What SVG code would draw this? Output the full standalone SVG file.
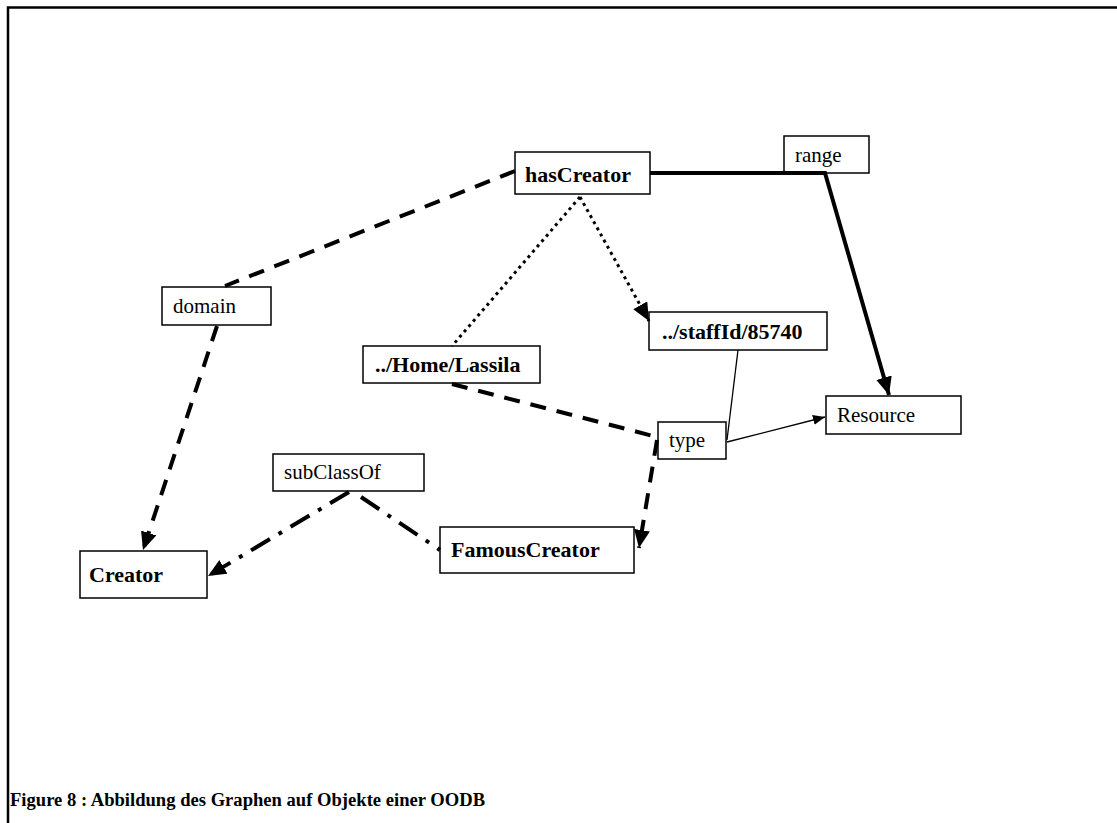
<svg xmlns="http://www.w3.org/2000/svg" width="1117" height="823" viewBox="0 0 1117 823">
<style>
.box{fill:#fff;stroke:#000;stroke-width:1.5}
.t{font-family:"Liberation Serif","Times New Roman",serif;font-size:21px;fill:#000}
.b{font-weight:bold;font-size:22px}
.ln{fill:none;stroke:#000}
.dash{stroke-width:4;stroke-dasharray:16 11}
.dot{stroke-width:3;stroke-dasharray:3 4}
.dd{stroke-width:4;stroke-dasharray:22 10 4 10}
.solid{stroke-width:4}
.thin{stroke-width:1.3}
</style>
<defs>
<marker id="ah" markerUnits="userSpaceOnUse" markerWidth="20" markerHeight="18" refX="18" refY="8" orient="auto">
<path d="M0,0 L18,8 L0,16 z" fill="#000"/>
</marker>
<marker id="ahs" markerUnits="userSpaceOnUse" markerWidth="14" markerHeight="12" refX="12" refY="5" orient="auto">
<path d="M0,0 L12,5 L0,10 z" fill="#000"/>
</marker>
</defs>
<rect width="1117" height="823" fill="#fff"/>
<path d="M8,823 V7.5 H1117" fill="none" stroke="#000" stroke-width="2.5"/>

<g id="node-hasCreator"><rect class="box" x="515" y="152" width="135" height="42"/><text class="t b" x="525" y="182">hasCreator</text></g>
<g id="node-range"><rect class="box" x="784" y="136" width="85" height="37"/><text class="t" x="795" y="162">range</text></g>
<g id="node-domain"><rect class="box" x="162" y="287" width="109" height="38"/><text class="t" x="173" y="313">domain</text></g>
<g id="node-home"><rect class="box" x="363" y="346" width="177" height="37"/><text class="t b" x="375" y="372">../Home/Lassila</text></g>
<g id="node-staff"><rect class="box" x="649" y="312" width="178" height="38"/><text class="t b" x="662" y="339">../staffId/85740</text></g>
<g id="node-type"><rect class="box" x="658" y="422" width="68" height="37"/><text class="t" x="669" y="447">type</text></g>
<g id="node-resource"><rect class="box" x="826" y="396" width="135" height="38"/><text class="t" x="837" y="422">Resource</text></g>
<g id="node-subClassOf"><rect class="box" x="273" y="454" width="151" height="37"/><text class="t" x="284" y="479">subClassOf</text></g>
<g id="node-creator"><rect class="box" x="80" y="551" width="127" height="47"/><text class="t b" x="89" y="582">Creator</text></g>
<g id="node-famous"><rect class="box" x="440" y="527" width="194" height="46"/><text class="t b" x="451" y="557">FamousCreator</text></g>

<g id="connectors">
<path class="ln dash" d="M515,171 L225,286"/>
<path class="ln dash" d="M217,326 L143,550" marker-end="url(#ah)"/>
<path class="ln solid" d="M650,173 H825 L889,395" marker-end="url(#ah)"/>
<path class="ln dot" d="M580,197 L649,321" marker-end="url(#ah)"/>
<path class="ln dot" d="M580,197 L452,346"/>
<path class="ln dash" d="M452,384 L657,437"/>
<path class="ln dash" d="M657,440 L639,548" marker-end="url(#ah)"/>
<path class="ln thin" d="M738,350 L727,440"/>
<path class="ln thin" d="M727,442 L825,417" marker-end="url(#ahs)"/>
<path class="ln dd" d="M349,492 L208,576" marker-end="url(#ah)"/>
<path class="ln dd" d="M361,497 L440,550"/>
</g>

<text class="t b" x="10" y="806" style="font-size:18.6px">Figure 8 : Abbildung des Graphen auf Objekte einer OODB</text>
</svg>
